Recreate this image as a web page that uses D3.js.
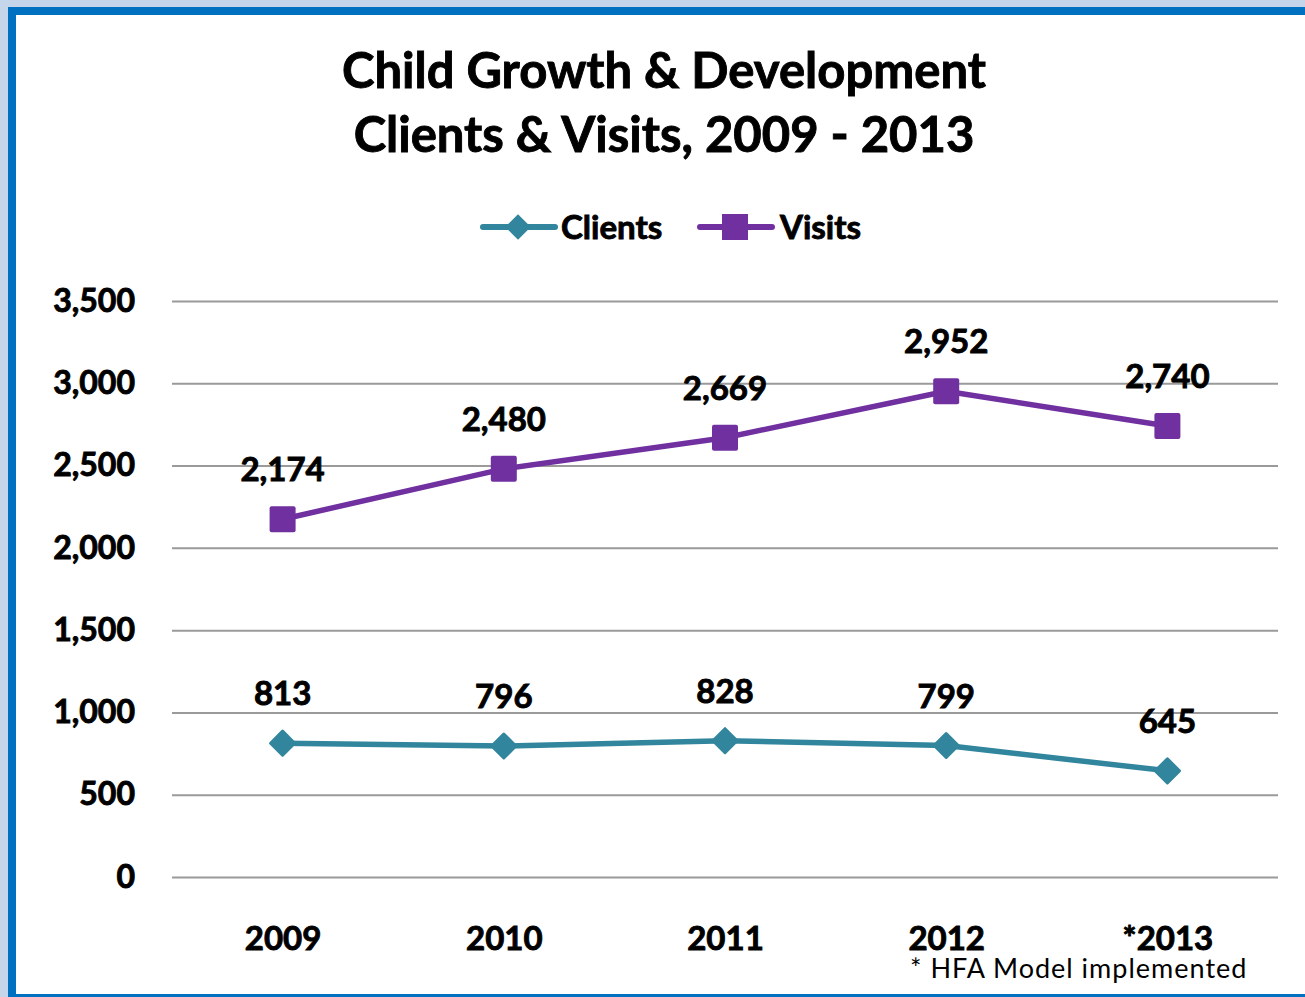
<!DOCTYPE html>
<html>
<head>
<meta charset="utf-8">
<script src="https://cdn.jsdelivr.net/npm/d3@7"></script>
<style>
  html, body { margin: 0; padding: 0; background: #fff; }
  svg { display: block; }
  text { font-family: Lato, "Open Sans", sans-serif; }
  .heavy { stroke: #000; stroke-width: 0.9px; paint-order: stroke; }
</style>
</head>
<body>
<svg id="chart" width="1305" height="997"></svg>
<script>
// Chart data
const years = ["2009", "2010", "2011", "2012", "*2013"];
const clients = [813, 796, 828, 799, 645];
const visits = [2174, 2480, 2669, 2952, 2740];
const yTicks = [0, 500, 1000, 1500, 2000, 2500, 3000, 3500];
const titleLines = ["Child Growth & Development", "Clients & Visits, 2009 - 2013"];
const footnote = "* HFA Model implemented";

const series = [
  { name: "Clients", values: clients, color: "#31859c", marker: "diamond" },
  { name: "Visits", values: visits, color: "#7030a0", marker: "square" }
];

const svg = d3.select("#chart");
const W = 1305, H = 997;

// Frame: pale outer band, blue border, white panel
svg.append("rect").attr("width", W).attr("height", H).attr("fill", "#c6d6ea");
svg.append("rect").attr("x", 8).attr("y", 7).attr("width", W - 8).attr("height", H - 7).attr("fill", "#0070c0");
svg.append("rect").attr("x", 16).attr("y", 15).attr("width", W - 16).attr("height", H - 18).attr("fill", "#fff");

const plot = { left: 172, right: 1278, top: 301, bottom: 877 };

const x = d3.scalePoint().domain(years).range([plot.left, plot.right]).padding(0.5);
const y = d3.scaleLinear().domain([0, 3500]).range([plot.bottom, plot.top]);

// Title
svg.append("g").selectAll("text").data(titleLines).join("text")
  .attr("class", "heavy")
  .attr("x", 664).attr("y", (d, i) => 88 + i * 64)
  .attr("text-anchor", "middle")
  .attr("font-size", 49).attr("font-weight", 700).attr("fill", "#000")
  .text(d => d);

// Horizontal gridlines with value ticks
const yAxis = d3.axisLeft(y).tickValues(yTicks).tickSize(-(plot.right - plot.left)).tickPadding(37)
  .tickFormat(d3.format(","));
const gy = svg.append("g").attr("transform", `translate(${plot.left},0)`).call(yAxis);
gy.select(".domain").remove();
gy.selectAll(".tick line").attr("stroke", "#9a9a9a").attr("stroke-width", 2);
gy.selectAll(".tick text").attr("class", "heavy").attr("font-size", 32).attr("font-weight", 700).attr("fill", "#000")
  .attr("font-family", "Lato, 'Open Sans', sans-serif");

// Category axis
const xAxis = d3.axisBottom(x).tickSize(0).tickPadding(0);
const gx = svg.append("g").attr("transform", `translate(0,${plot.bottom})`).call(xAxis);
gx.select(".domain").remove();
gx.selectAll(".tick text").attr("class", "heavy").attr("dy", null).attr("y", 73)
  .attr("font-size", 33).attr("font-weight", 700).attr("fill", "#000")
  .attr("font-family", "Lato, 'Open Sans', sans-serif");

// Lines, markers, and value labels
const line = d3.line().x((d, i) => x(years[i])).y(d => y(d));

series.forEach(s => {
  const g = svg.append("g");
  g.append("path").datum(s.values).attr("d", line)
    .attr("fill", "none").attr("stroke", s.color).attr("stroke-width", 5.5)
    .attr("stroke-linejoin", "round");
  const pts = g.selectAll("g.pt").data(s.values).join("g")
    .attr("transform", (d, i) => `translate(${x(years[i])},${y(d)})`);
  if (s.marker === "square") {
    pts.append("rect").attr("x", -13).attr("y", -13).attr("width", 26).attr("height", 26)
      .attr("rx", 2).attr("fill", s.color);
  } else {
    pts.append("rect").attr("x", -10).attr("y", -10).attr("width", 20).attr("height", 20)
      .attr("rx", 1.5).attr("transform", "rotate(45)").attr("fill", s.color);
  }
  pts.append("text").attr("class", "heavy").attr("y", -38).attr("text-anchor", "middle")
    .attr("font-size", 33).attr("font-weight", 700).attr("fill", "#000")
    .text(d => d3.format(",")(d));
});

// Legend
const legendItems = [
  { s: series[0], x0: 480, tx: 561 },
  { s: series[1], x0: 697, tx: 780 }
];
const lg = svg.append("g");
legendItems.forEach(({ s, x0, tx }) => {
  const cy = 227;
  lg.append("line").attr("x1", x0 + 3).attr("x2", x0 + 75).attr("y1", cy).attr("y2", cy)
    .attr("stroke", s.color).attr("stroke-width", 6).attr("stroke-linecap", "round");
  const mx = x0 + 38;
  if (s.marker === "square") {
    lg.append("rect").attr("x", mx - 13).attr("y", cy - 13).attr("width", 26).attr("height", 26)
      .attr("fill", s.color);
  } else {
    lg.append("rect").attr("x", -9).attr("y", -9).attr("width", 18).attr("height", 18)
      .attr("transform", `translate(${mx},${cy}) rotate(45)`).attr("fill", s.color);
  }
  lg.append("text").attr("class", "heavy").attr("x", tx).attr("y", cy + 12)
    .attr("font-size", 33).attr("font-weight", 700).attr("fill", "#000").text(s.name);
});

// Footnote
svg.append("text").attr("x", 910).attr("y", 978)
  .attr("font-size", 27).attr("fill", "#000").attr("letter-spacing", 1)
  .text(footnote);
</script>
</body>
</html>
